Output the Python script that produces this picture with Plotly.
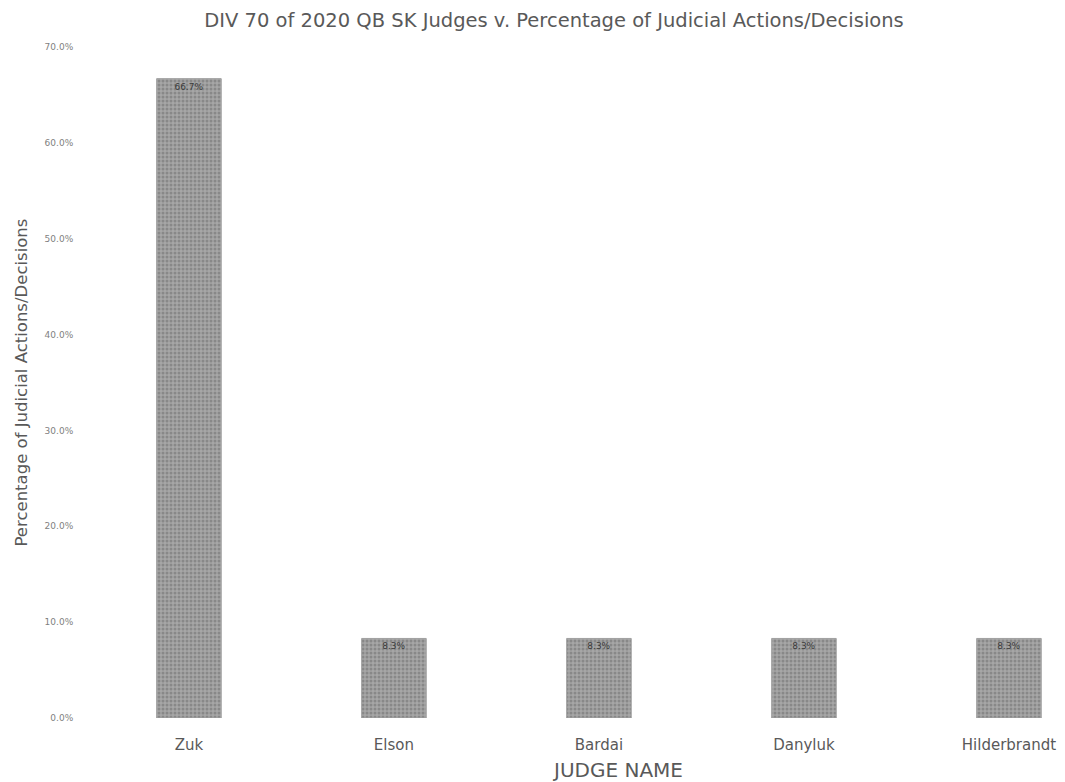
import plotly.graph_objects as go

judges = ["Zuk", "Elson", "Bardai", "Danyluk", "Hilderbrandt"]
percentages = [66.7, 8.3, 8.3, 8.3, 8.3]
labels = ["66.7%", "8.3%", "8.3%", "8.3%", "8.3%"]
y_ticks = [0, 10, 20, 30, 40, 50, 60, 70]
y_tick_labels = ["0.0%", "10.0%", "20.0%", "30.0%", "40.0%", "50.0%", "60.0%", "70.0%"]

font_family = "'DejaVu Sans', sans-serif"
W, H = 1057, 774
L, R, T, B = 77, 5, 39, 64
plot_w = W - L - R
plot_h = H - T - B

fig = go.Figure()
fig.add_trace(go.Bar(
    x=list(range(len(judges))),
    y=percentages,
    text=labels,
    textposition="inside",
    insidetextanchor="end",
    textfont=dict(size=9, color="#3a3a3a", family=font_family),
    marker=dict(color="#8e8e8e", line=dict(color="#a0a0a0", width=1),
                pattern=dict(shape=".", fgcolor="#6a6a6a", bgcolor="#a6a6a6", size=4, solidity=0.45)),
    width=0.315,
    hoverinfo="skip",
))

fig.update_layout(
    width=W, height=H,
    margin=dict(l=L, r=R, t=T, b=B, autoexpand=False),
    paper_bgcolor="white", plot_bgcolor="white",
    showlegend=False,
    title=dict(text="DIV 70 of 2020 QB SK Judges v. Percentage of Judicial Actions/Decisions",
               x=546 / W, xanchor="center", y=1 - 12 / H, yanchor="middle",
               font=dict(size=19.5, color="#595959", family=font_family)),
    font=dict(family=font_family, color="#595959"),
    xaxis=dict(
        tickmode="array", tickvals=list(range(len(judges))), ticktext=judges,
        range=[-0.507, 4.249],
        showgrid=False, zeroline=False, showline=False,
        ticks="outside", ticklen=13, tickcolor="rgba(0,0,0,0)",
        ticklabeloverflow="allow",
        tickfont=dict(size=15, color="#595959", family=font_family),
        automargin=False,
    ),
    yaxis=dict(
        range=[0, 70],
        tickmode="array", tickvals=y_ticks, ticktext=y_tick_labels,
        showgrid=False, zeroline=False, showline=False,
        ticks="outside", ticklen=9, tickcolor="rgba(0,0,0,0)",
        tickfont=dict(size=9, color="#7f7f7f", family=font_family),
        automargin=False,
    ),
    annotations=[
        dict(text="Percentage of Judicial Actions/Decisions", textangle=-90,
             xref="paper", yref="paper", x=(13 - L) / plot_w, y=0.5,
             xanchor="center", yanchor="middle", showarrow=False,
             font=dict(size=16.5, color="#595959", family=font_family)),
        dict(text="JUDGE NAME",
             xref="paper", yref="paper", x=(609 - L) / plot_w, y=-(762 - (H - B)) / plot_h,
             xanchor="center", yanchor="middle", showarrow=False,
             font=dict(size=20, color="#595959", family=font_family)),
    ],
)

fig.write_html("out.html")
